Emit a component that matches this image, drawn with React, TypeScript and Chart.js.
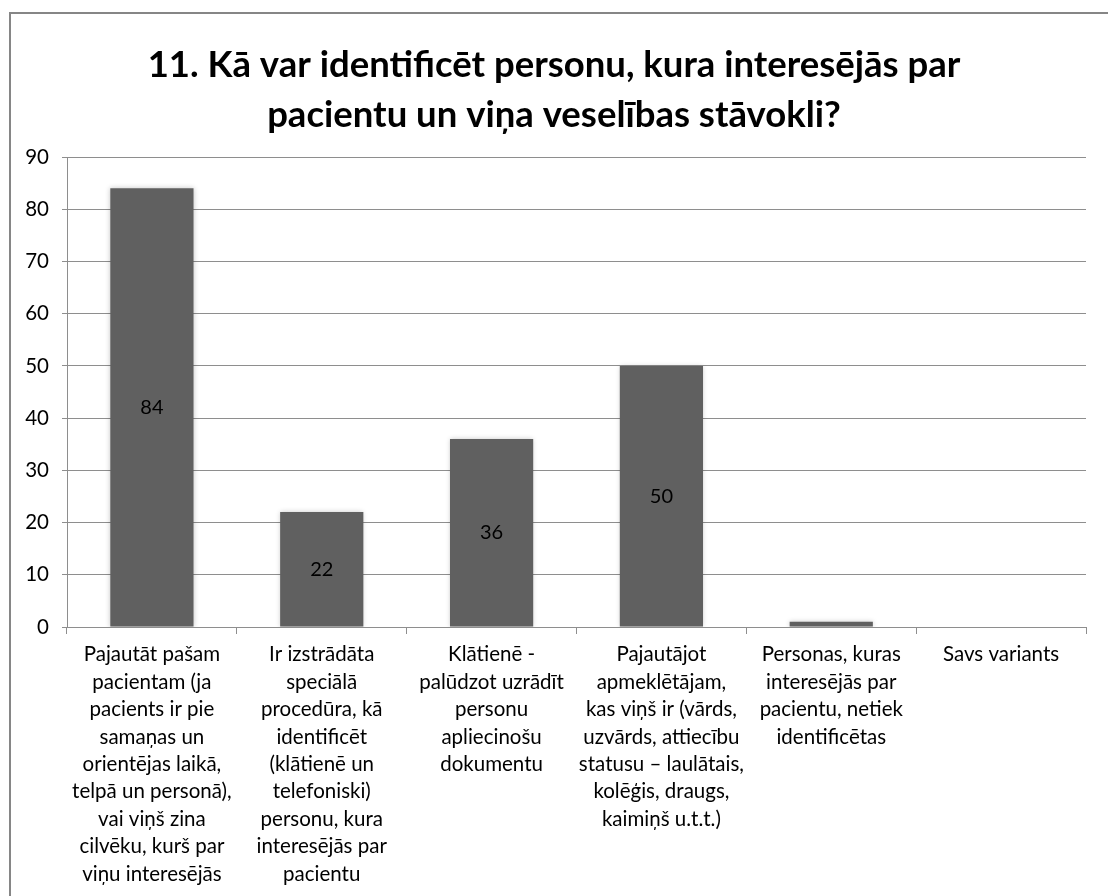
import React, { useEffect, useRef } from 'react';
import { Chart, registerables } from 'chart.js';

Chart.register(...registerables);

const titleLines: string[] = [
  '11. Kā var identificēt personu, kura interesējās par',
  'pacientu un viņa veselības stāvokli?',
];

const categories: string[][] = [
  ['Pajautāt pašam', 'pacientam (ja', 'pacients ir pie', 'samaņas un', 'orientējas laikā,', 'telpā un personā),', 'vai viņš zina', 'cilvēku, kurš par', 'viņu interesējās'],
  ['Ir izstrādāta', 'speciālā', 'procedūra, kā', 'identificēt', '(klātienē un', 'telefoniski)', 'personu, kura', 'interesējās par', 'pacientu'],
  ['Klātienē -', 'palūdzot uzrādīt', 'personu', 'apliecinošu', 'dokumentu'],
  ['Pajautājot', 'apmeklētājam,', 'kas viņš ir (vārds,', 'uzvārds, attiecību', 'statusu – laulātais,', 'kolēģis, draugs,', 'kaimiņš u.t.t.)'],
  ['Personas, kuras', 'interesējās par', 'pacientu, netiek', 'identificētas'],
  ['Savs variants'],
];

const values: number[] = [84, 22, 36, 50, 1, 0];

const yMin = 0;
const yMax = 90;
const yStep = 10;

const FONT = 'Lato, "Open Sans", sans-serif';

const barShadow = {
  id: 'barShadow',
  beforeDatasetsDraw(chart: any) {
    const ctx = chart.ctx;
    ctx.save();
    ctx.shadowColor = 'rgba(0,0,0,0.22)';
    ctx.shadowBlur = 5;
    ctx.shadowOffsetX = 0;
    ctx.shadowOffsetY = 0;
  },
  afterDatasetsDraw(chart: any) {
    chart.ctx.restore();
  },
};

const valueLabels = {
  id: 'valueLabels',
  afterDatasetsDraw(chart: any) {
    const ctx = chart.ctx;
    const meta = chart.getDatasetMeta(0);
    ctx.save();
    ctx.font = `20px ${FONT}`;
    ctx.fillStyle = '#000';
    ctx.textAlign = 'center';
    ctx.textBaseline = 'middle';
    meta.data.forEach((bar: any, i: number) => {
      const v = chart.data.datasets[0].data[i] as number;
      const { x, y, base } = bar.getProps(['x', 'y', 'base'], true);
      if (Math.abs(base - y) < 24) return;
      ctx.fillText(String(v), x, (y + base) / 2);
    });
    ctx.restore();
  },
};

export default function App() {
  const ref = useRef<HTMLCanvasElement | null>(null);

  useEffect(() => {
    document.body.style.margin = '0';
    if (!ref.current) return;
    const chart = new Chart(ref.current, {
      type: 'bar',
      data: {
        labels: categories,
        datasets: [
          {
            data: values,
            backgroundColor: '#606060',
            borderWidth: 0,
            categoryPercentage: 1,
            barPercentage: 0.49,
          },
        ],
      },
      options: {
        responsive: false,
        animation: false,
        devicePixelRatio: 1,
        layout: { padding: { left: 0, right: 0, top: 0, bottom: 0 } },
        plugins: {
          legend: { display: false },
          tooltip: { enabled: false },
          title: {
            display: true,
            text: titleLines,
            color: '#000',
            font: { family: FONT, size: 36.5, weight: 'bold', lineHeight: 1.37 },
            padding: { top: 40, bottom: 17 },
          },
        },
        scales: {
          x: {
            afterFit(scale: any) {
              scale.height = 269;
            },
            grid: {
              display: true,
              drawOnChartArea: false,
              drawTicks: true,
              tickLength: 7,
              color: '#8e8e8e',
              offset: true,
            },
            border: { display: true, color: '#8e8e8e' },
            ticks: {
              color: '#000',
              padding: 7,
              maxRotation: 0,
              autoSkip: false,
              font: { family: FONT, size: 20.5, lineHeight: 1.337 },
            },
          },
          y: {
            min: yMin,
            max: yMax,
            afterFit(scale: any) {
              scale.width = 67;
            },
            grid: {
              color: '#8e8e8e',
              tickLength: 5,
            },
            border: { display: true, color: '#8e8e8e' },
            ticks: {
              stepSize: yStep,
              color: '#000',
              padding: 13,
              font: { family: FONT, size: 20.5 },
            },
          },
          yRightSpace: {
            type: 'linear',
            position: 'right',
            display: true,
            afterFit(scale: any) {
              scale.width = 22;
            },
            grid: { display: false, drawTicks: false },
            border: { display: false },
            ticks: { display: false },
          },
        },
      },
      plugins: [barShadow, valueLabels],
    });
    return () => chart.destroy();
  }, []);

  return (
    <div style={{ position: 'relative', width: 1108, height: 896, overflow: 'hidden', background: '#fff' }}>
      <div
        style={{
          position: 'absolute',
          left: 9,
          top: 12,
          width: 1108,
          height: 900,
          borderTop: '2px solid #868686',
          borderLeft: '2px solid #868686',
        }}
      />
      <canvas ref={ref} width={1108} height={896} style={{ position: 'absolute', left: 0, top: 0 }} />
    </div>
  );
}
